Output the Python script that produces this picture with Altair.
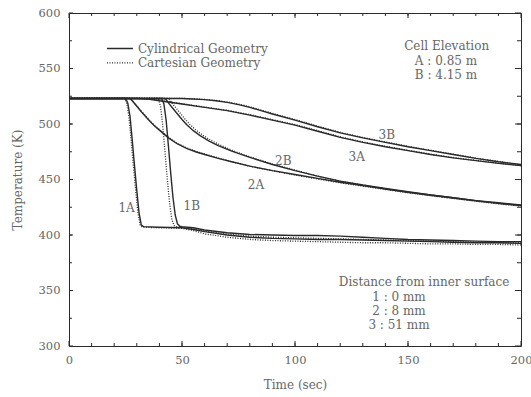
import altair as alt
import pandas as pd

# ---------------- data ----------------
t_1A_cyl = [0, 25, 26, 27, 28, 29, 30, 31, 32, 33, 40, 50, 55, 60, 70, 80, 90, 100, 110, 120, 130, 140, 150, 160, 170, 180, 190, 200]
T_1A_cyl = [523, 523, 519, 507, 485, 462, 440, 420, 409, 407.5, 407, 406.5, 405, 403, 400, 398, 397, 396.5, 396, 396, 395.5, 395, 394.5, 394, 393.5, 393, 393, 392.5]
t_1A_cart = [0, 24.5, 25.5, 26.5, 27.5, 28.5, 29.5, 30.5, 31.5, 32.5, 40, 50, 55, 60, 70, 80, 90, 100, 110, 120, 130, 140, 150, 160, 170, 180, 190, 200]
T_1A_cart = [523, 523, 519, 507, 485, 462, 440, 420, 409, 407, 406.5, 406, 404, 401, 398, 396, 395, 394.5, 394, 393.5, 393, 393, 392.5, 392, 392, 391.5, 391.5, 391]

t_1B_cyl = [0, 41, 42, 43, 44, 45, 46, 47, 48, 49, 50, 55, 60, 70, 80, 90, 100, 110, 120, 130, 140, 150, 160, 170, 180, 190, 200]
T_1B_cyl = [523, 523, 518, 503, 480, 456, 434, 418, 410, 408, 407.5, 406.5, 404.5, 402, 400.5, 400, 399.5, 399.5, 399, 398, 397, 396, 395.5, 395, 394.5, 394, 394]
t_1B_cart = [0, 39.5, 40.5, 41.5, 42.5, 43.5, 44.5, 45.5, 46.5, 47.5, 50, 55, 60, 70, 80, 90, 100, 110, 120, 130, 140, 150, 160, 170, 180, 190, 200]
T_1B_cart = [523, 523, 516, 498, 474, 450, 429, 414, 408.5, 407.5, 407, 405.5, 403.5, 401, 399, 398, 397.5, 397, 396.5, 396, 395.5, 395, 394.5, 394, 393.5, 393, 393]

t_2A_cyl = [0, 27, 28, 30, 32, 34, 36, 38, 40, 44, 48, 52, 56, 60, 66, 72, 80, 90, 100, 110, 120, 130, 140, 150, 160, 170, 180, 190, 200]
T_2A_cyl = [523, 523, 521, 516, 511, 506.5, 502, 498, 494.5, 487.5, 482, 478, 475, 472.5, 469, 466, 462, 458, 454.5, 451, 447.5, 444.5, 441.5, 438.5, 436, 433.5, 431, 429, 427]
t_2A_cart = [0, 27, 28, 30, 32, 34, 36, 38, 40, 44, 48, 52, 56, 60, 66, 72, 80, 90, 100, 110, 120, 130, 140, 150, 160, 170, 180, 190, 200]
T_2A_cart = [523, 523, 521, 516.5, 511.5, 507, 502.5, 498.5, 495, 488, 482.5, 478.5, 475.5, 473, 469.5, 466, 462, 458, 454, 450.5, 447, 444, 441, 438, 435.5, 433, 430.5, 428.5, 426.5]

t_2B_cyl = [0, 42, 43, 44, 46, 48, 50, 52, 55, 58, 62, 66, 72, 80, 90, 100, 110, 120, 130, 140, 150, 160, 170, 180, 190, 200]
T_2B_cyl = [523, 523, 522, 519, 514, 509, 504, 499.5, 494, 489.5, 484.5, 480.5, 475.5, 470, 463.5, 458, 453, 448.5, 445, 442, 439, 436, 433.5, 431, 428.5, 426.5]
t_2B_cart = [0, 43.5, 44.5, 45.5, 47.5, 49.5, 51.5, 53.5, 56.5, 59.5, 63.5, 67.5, 73, 80, 90, 100, 110, 120, 130, 140, 150, 160, 170, 180, 190, 200]
T_2B_cart = [523, 523, 522, 519, 514, 509, 504, 499.5, 494, 489.5, 484.5, 480.5, 475.5, 470.5, 464, 458.5, 453, 448.5, 445, 441.5, 438.5, 435.5, 433, 430.5, 428, 426]

t_3A_cyl = [0, 30, 35, 40, 50, 60, 70, 80, 90, 100, 110, 120, 130, 140, 150, 160, 170, 180, 190, 200]
T_3A_cyl = [523, 523, 522.5, 521, 518, 515, 512, 508, 503.5, 499, 493.5, 488, 483.5, 479.5, 476, 472.5, 469.5, 467, 464.5, 462.5]
t_3A_cart = [0, 31, 36, 41, 51, 61, 71, 81, 91, 101, 111, 121, 131, 141, 151, 161, 171, 181, 191, 200]
T_3A_cart = [523, 523, 522.5, 521, 518, 515, 512, 508, 503.5, 499, 493.5, 488, 483.5, 479.5, 476, 472.5, 469.5, 467, 464.5, 462.5]

t_3B_cyl = [0, 45, 50, 55, 60, 65, 70, 75, 80, 85, 90, 100, 110, 120, 130, 140, 150, 160, 170, 180, 190, 200]
T_3B_cyl = [523, 523, 523, 522.5, 522, 521, 519.5, 517.5, 515, 512, 509, 503.5, 497.5, 492, 487.5, 483.5, 479.5, 476, 472.5, 469, 466, 463.5]
t_3B_cart = [0, 46, 51, 56, 61, 66, 71, 76, 81, 86, 91, 101, 111, 121, 131, 141, 151, 161, 171, 181, 191, 200]
T_3B_cart = [523, 523, 523, 522.5, 522, 521, 519.5, 517.5, 515, 512, 509, 503.5, 497.5, 492, 487.5, 483.5, 479.5, 476, 472.5, 469, 466, 463]

# curve labels
curve_labels = ["1A", "1B", "2A", "2B", "3A", "3B"]
curve_label_t = [25.5, 54.3, 82.7, 94.8, 127.3, 140.6]
curve_label_T = [424.6, 426.0, 444.6, 467.0, 470.3, 490.0]

# legend
legend_names = ["Cylindrical Geometry", "Cartesian Geometry"]
legend_T = [568.0, 555.0]
legend_t_start = [16.8, 16.8]
legend_t_end = [28.3, 28.3]
legend_text_t = [30.5, 30.5]

# annotations
annot_text = ["Cell Elevation", "A : 0.85 m", "B : 4.15 m",
              "Distance from inner surface", "1 : 0 mm", "2 : 8 mm", "3 : 51 mm"]
annot_t = [167.1, 166.8, 166.8, 157.1, 146.0, 146.0, 146.0]
annot_T = [570.3, 556.8, 543.7, 357.9, 344.4, 331.8, 318.9]

x_major = [0, 50, 100, 150, 200]
x_minor = list(range(10, 200, 10))
y_major = [300, 350, 400, 450, 500, 550, 600]
y_minor = list(range(325, 600, 25))

# ---------------- tables ----------------
series = [
    ("1A", "cyl", t_1A_cyl, T_1A_cyl), ("1A", "cart", t_1A_cart, T_1A_cart),
    ("1B", "cyl", t_1B_cyl, T_1B_cyl), ("1B", "cart", t_1B_cart, T_1B_cart),
    ("2A", "cyl", t_2A_cyl, T_2A_cyl), ("2A", "cart", t_2A_cart, T_2A_cart),
    ("2B", "cyl", t_2B_cyl, T_2B_cyl), ("2B", "cart", t_2B_cart, T_2B_cart),
    ("3A", "cyl", t_3A_cyl, T_3A_cyl), ("3A", "cart", t_3A_cart, T_3A_cart),
    ("3B", "cyl", t_3B_cyl, T_3B_cyl), ("3B", "cart", t_3B_cart, T_3B_cart),
]
rows = []
for name, geom, ts, Ts in series:
    for i, (a, b) in enumerate(zip(ts, Ts)):
        rows.append({"series": name + geom, "geom": geom, "t": a, "T": b, "order": i})
df = pd.DataFrame(rows)
df_cyl = df[df.geom == "cyl"]
df_cart = df[df.geom == "cart"]

labels_df = pd.DataFrame({"label": curve_labels, "t": curve_label_t, "T": curve_label_T})
leg_rows = []
for n, T, a, b in zip(legend_names, legend_T, legend_t_start, legend_t_end):
    leg_rows.append({"name": n, "t": a, "T": T})
    leg_rows.append({"name": n, "t": b, "T": T})
leg_df = pd.DataFrame(leg_rows)
leg_text_df = pd.DataFrame({"name": legend_names, "t": legend_text_t, "T": legend_T})
annot_df = pd.DataFrame({"text": annot_text, "t": annot_t, "T": annot_T})

xmaj_df = pd.DataFrame({"v": x_major})
xmin_df = pd.DataFrame({"v": x_minor})
ymaj_df = pd.DataFrame({"v": y_major})
ymin_df = pd.DataFrame({"v": y_minor})

# ---------------- style ----------------
W, H = 452, 333
FONT = "DejaVu Serif"
TXT = "#666666"
LINE = "#2a2a2a"
xs = alt.Scale(domain=[0, 200], nice=False, zero=False)
ys = alt.Scale(domain=[300, 600], nice=False, zero=False)

main_x = alt.Axis(orient="bottom", values=x_major, ticks=False, domain=False, grid=False,
                  labelFont=FONT, labelFontSize=11.5, labelColor=TXT, labelPadding=8,
                  labelFlush=False, title="Time (sec)", titleFont=FONT, titleFontSize=12,
                  titleFontWeight="normal", titleColor=TXT, titlePadding=14)
main_y = alt.Axis(orient="left", values=y_major, ticks=False, domain=False, grid=False,
                  labelFont=FONT, labelFontSize=11.5, labelColor=TXT, labelPadding=9,
                  labelFlush=False, title="Temperature (K)", titleFont=FONT, titleFontSize=12,
                  titleFontWeight="normal", titleColor=TXT, titlePadding=14)

cyl = alt.Chart(df_cyl).mark_line(color=LINE, strokeWidth=1.4).encode(
    x=alt.X("t:Q", scale=xs, axis=main_x),
    y=alt.Y("T:Q", scale=ys, axis=main_y),
    detail="series:N", order="order:Q")

cart = alt.Chart(df_cart).mark_line(color=LINE, strokeWidth=1.3, strokeDash=[1, 1.5]).encode(
    x=alt.X("t:Q", scale=xs),
    y=alt.Y("T:Q", scale=ys),
    detail="series:N", order="order:Q")


def xticks(d, y0, y1):
    return alt.Chart(d).mark_rule(color=LINE, strokeWidth=1).encode(
        x=alt.X("v:Q", scale=xs), y=alt.value(y0), y2=alt.value(y1))


def yticks(d, x0, x1):
    return alt.Chart(d).mark_rule(color=LINE, strokeWidth=1).encode(
        y=alt.Y("v:Q", scale=ys), x=alt.value(x0), x2=alt.value(x1))


ticks = [
    xticks(xmin_df, H, H - 3), xticks(xmaj_df, H, H - 5),
    xticks(xmin_df, 0, 3), xticks(xmaj_df, 0, 5),
    yticks(ymin_df, 0, 3), yticks(ymaj_df, 0, 4),
    yticks(ymin_df, W, W - 4), yticks(ymaj_df, W, W - 6),
]

lab = alt.Chart(labels_df).mark_text(font=FONT, fontSize=12, color=TXT, baseline="middle").encode(
    x=alt.X("t:Q", scale=xs), y=alt.Y("T:Q", scale=ys), text="label:N")

leg_lines = alt.Chart(leg_df).mark_line(color=LINE, strokeWidth=1.3).encode(
    x=alt.X("t:Q", scale=xs), y=alt.Y("T:Q", scale=ys),
    strokeDash=alt.StrokeDash("name:N", scale=alt.Scale(domain=legend_names, range=[[1, 0], [1, 1.5]]), legend=None))

leg_text = alt.Chart(leg_text_df).mark_text(font=FONT, fontSize=12, color=TXT, align="left", baseline="middle").encode(
    x=alt.X("t:Q", scale=xs), y=alt.Y("T:Q", scale=ys), text="name:N")

annot = alt.Chart(annot_df).mark_text(font=FONT, fontSize=12, color=TXT, align="center", baseline="middle").encode(
    x=alt.X("t:Q", scale=xs), y=alt.Y("T:Q", scale=ys), text="text:N")

chart = alt.layer(cyl, cart, *ticks, lab, leg_lines, leg_text, annot).properties(
    width=W, height=H,
    autosize=alt.AutoSizeParams(type="none"),
    padding={"left": 69, "top": 13, "right": 10, "bottom": 51},
    background="white",
).configure_view(stroke=LINE, strokeWidth=1)

chart.save("out.html", embed_options={"renderer": "svg", "actions": False})
